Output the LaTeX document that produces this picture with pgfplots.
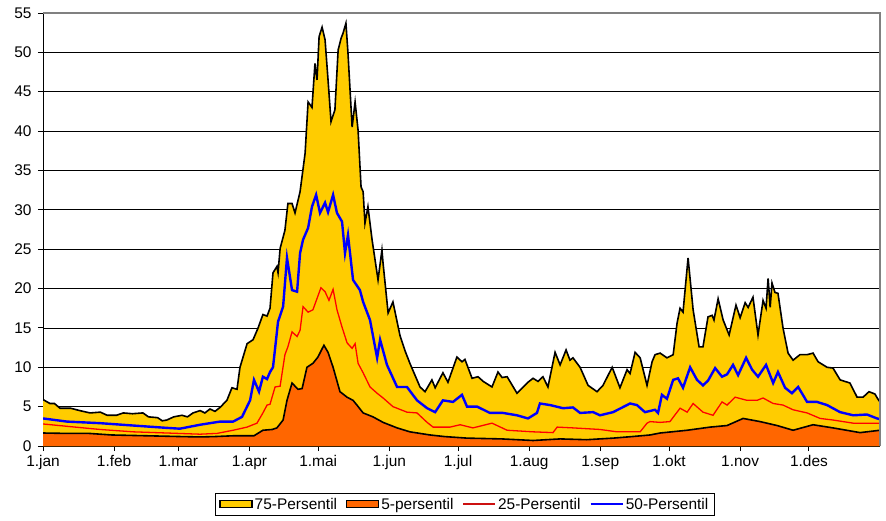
\documentclass[border=0pt]{standalone}
\usepackage{pgfplots}
\pgfplotsset{compat=1.18}
\usepackage{pgfplotstable}
\usepackage{fontspec}
\setmainfont{Liberation Sans}

\definecolor{gull}{HTML}{FFCC00}
\definecolor{oransje}{HTML}{FF6600}
\definecolor{ramme}{HTML}{808080}
\definecolor{rod}{HTML}{FF0000}
\definecolor{mrod}{HTML}{CC1010}
\definecolor{bla}{HTML}{0000FF}

% dag i året (1.jan = 0), verdi
\pgfplotstableread{
d v
0 5.9
3 5.4
5 5.4
7.4 4.8
12 4.8
16 4.5
20.5 4.2
25 4.3
28 3.9
32 3.9
35 4.2
39 4.1
43.6 4.2
46 3.7
50 3.6
52 3.2
54 3.3
57 3.7
60.6 3.9
63 3.7
65.4 4.2
68.5 4.5
70.6 4.2
72.8 4.7
75 4.4
77.2 4.9
80.2 5.8
82.4 7.4
84.6 7.2
85.9 10
89 13
91.6 13.5
93.8 15
95.9 16.7
97.7 16.5
99 17.5
100.3 22
102 22.8
102.5 22
103.4 25.1
105.5 27.4
106.8 30.8
108.6 30.8
109.9 29.6
112.1 32.3
114.3 37.2
115.6 43.7
117.3 43
118.6 48.6
119.5 46.5
120.4 52
121.7 53.2
123 51.6
124.3 46.5
125.6 41.2
127.3 42.7
128.7 50.3
130 51.8
130.8 52.4
132.1 53.7
133 49.9
134.8 40.5
136.1 43.7
137.4 40.1
138.7 32.9
139.6 32.3
140.4 28.3
141.7 30.4
143.5 26.2
146.1 21.1
147.8 24.9
148.3 23.2
150.5 16.9
152.6 18.3
155.7 14
158 12
160 10.5
164.4 7.5
166.6 6.9
169.6 8.4
171 7.4
174.4 9.3
176.6 8.1
180.5 11.3
182.7 10.7
184 11
187.1 8.6
189.7 8.8
192 8.2
195.8 7.5
198.4 9.4
200.2 8.7
202.4 8.8
206.7 6.7
211.5 8.1
213.7 8.6
215.9 8.2
218 8.8
220.2 7.5
223.3 11.9
225.5 10.3
228.1 12.2
229.8 10.9
231.1 11.2
234.2 10
237.7 7.7
241.6 6.9
244.2 7.7
248.2 10
251.6 7.4
254.7 9.7
256 9.2
258.2 11.9
260.4 11.2
263.4 7.7
265.6 10.7
266.9 11.6
269.1 11.8
272.1 11.2
274.8 11.6
276.5 15.6
277.8 17.5
279.1 17
281.3 23.9
283.5 17.3
286.1 12.6
287.8 12.6
290 16.4
291.8 16.6
292.6 16
294.4 18.7
296.6 16
299.2 14.1
302.2 17.9
304 16.3
306.2 18.2
307.5 17.6
309.6 18.9
311.8 14.1
314 18.5
315.3 17.5
316.2 21.3
317.1 17.6
317.9 20.7
319.2 19.5
320.5 19.4
322.7 15
324.9 11.8
327.1 10.9
330.1 11.6
333.2 11.6
335.8 11.8
338 10.7
341.9 10
344.5 9.9
347.6 8.4
351.9 8
355 6.2
357.6 6.2
360.2 6.9
362.8 6.6
364 6.0
365 5.6
}\pseksti

\pgfplotstableread{
d v
0 1.65
10 1.6
20 1.6
30 1.4
45 1.3
60 1.2
68.5 1.15
75 1.2
83 1.3
92 1.3
95.9 2.0
100 2.1
102 2.3
104.7 3.3
106.4 5.8
108.6 8.0
111.2 7.2
113 7.3
115.1 10
117.7 10.5
119.9 11.3
122.5 12.8
124.3 11.9
126.5 10
129.5 6.9
132.6 6.2
135.2 5.8
136.9 5.2
139.6 4.2
143.9 3.7
148.3 3.0
154.4 2.3
160 1.8
168.8 1.4
175 1.2
184.9 1.0
200 0.9
213.7 0.7
225.5 0.9
237 0.8
248.6 1.0
257 1.2
264.7 1.4
269.1 1.65
280.9 2.0
290.9 2.4
298.3 2.6
305.3 3.5
312.7 3.1
320.1 2.6
327.1 2.0
335.8 2.7
344.5 2.3
356.3 1.7
365 2.0
}\pfem

\pgfplotstableread{
d v
0 2.8
10.5 2.5
24.9 2.1
39.3 1.8
54.1 1.65
68.5 1.5
75.9 1.6
82.9 2.0
89 2.4
93.3 2.9
95.9 4.2
97.7 5.2
99 5.3
101.2 7.5
103.4 7.6
105.5 11.6
106.8 12.6
108.6 14.5
110.8 13.9
112.1 14.7
113.4 17.7
115.6 17
117.7 17.3
121.2 20.1
123 19.6
124.7 18.5
126.5 19.9
128.2 17.3
130.4 15.1
132.6 13.1
134.8 12.4
136.1 13
137.4 10.5
139.6 9.3
142.6 7.5
145.7 6.7
148.3 6.1
152.6 5.0
158.7 4.3
163.1 4.2
167.5 3.0
170.1 2.4
177.5 2.4
181.9 2.7
187.5 2.3
195.8 2.9
202.4 2.0
213.7 1.8
222.4 1.7
224.2 2.4
231.1 2.3
242.9 2.1
250.3 1.8
260.4 1.8
263.4 2.9
264.7 3.1
269.1 3.0
273.4 3.1
277.8 4.8
280.9 4.3
283.5 5.4
287.8 4.3
292.2 3.9
296.1 5.6
298.3 5.2
301.8 6.2
307 5.8
311.4 5.8
314 6.1
318.4 5.4
322.7 5.2
327.1 4.6
333.2 4.2
338.9 3.5
344.5 3.3
353.3 2.9
362 2.9
365 2.9
}\ptjuefem

\pgfplotstableread{
d v
0 3.5
10.5 3.1
24.9 2.9
39.3 2.6
54.1 2.3
59.7 2.2
68.5 2.7
77.2 3.1
82.9 3.1
86.8 3.7
90.3 5.8
92 8.4
94.2 6.9
95.9 8.8
97.7 8.5
99 9.4
100.3 10
102.5 15.8
104.7 17.7
106.4 23.9
108.6 19.8
110.8 19.6
112.1 24.5
113.4 26.2
115.6 27.7
117.3 30.4
119.1 31.9
120.8 29.6
123 30.9
124.3 29.7
126.5 31.9
128.2 29.6
130.4 28.5
131.7 24.5
133 26.8
135.2 21.1
138.2 19.8
139.6 18.3
142.6 16
145.7 11.2
147 13.5
150 10.3
154.4 7.5
158.7 7.5
163.1 5.8
167.5 4.8
171 4.3
174.4 5.8
178.8 5.6
182.7 6.5
184.9 5.0
189.3 5.0
194.9 4.2
200.6 4.2
206.7 3.9
211.5 3.5
215.4 4.2
216.7 5.4
221.1 5.2
226.8 4.8
231.1 4.9
234.2 4.2
239.9 4.3
242.9 3.9
248.6 4.3
256 5.4
259 5.2
262.5 4.3
266.9 4.6
268.2 4.2
269.9 6.5
272.1 6.0
274.8 8.4
276.9 8.6
279.1 7.4
282.2 10
285.2 8.4
287.8 7.7
290 8.3
293.1 9.9
296.1 8.8
298.3 9.1
300.9 10.3
303.1 9.0
306.6 11.2
309.2 9.7
311.8 8.8
315.3 10.3
318.4 8.0
320.5 9.4
323.6 7.4
326.6 6.7
329.3 7.5
333.2 5.6
337.5 5.6
341.9 5.2
347.6 4.3
353.3 3.9
359.3 4.0
363.7 3.5
365 3.4
}\pfemti

\begin{document}
\begin{tikzpicture}
\begin{axis}[
    name=ax,
    at={(0,0)}, anchor=south west,
    scale only axis, width=837bp, height=433bp,
    xmin=0, xmax=365, ymin=0, ymax=55,
    axis lines*=left,
    axis line style={black, line width=0.9bp},
    xtick={0,31,59,90,120,151,181,212,243,273,304,334},
    xticklabels={1.jan,1.feb,1.mar,1.apr,1.mai,1.jun,1.jul,1.aug,1.sep,1.okt,1.nov,1.des},
    ytick={0,5,...,55},
    tick align=outside, major tick length=5bp,
    tick style={black, line width=0.9bp},
    ymajorgrids, grid style={black, line width=0.8bp},
    /pgf/number format/assume math mode=true,
    ticklabel style={font=\fontsize{15.5}{18}\selectfont},
    yticklabel style={xshift=-3bp},
    xticklabel style={yshift=-1bp},
    legend style={at={(0.504,-0.1085)}, anchor=north, legend columns=4,
        draw=black, line width=0.8bp, inner xsep=4bp, inner ysep=2.5bp,
        font=\fontsize{15.5}{18}\selectfont,
        /tikz/every even column/.append style={column sep=7bp}},
    legend cell align=left,
]
\addplot[fill=gull, draw=none,
    legend image code/.code={\draw[fill=gull, draw=black, line width=1.3bp] (0bp,-3.5bp) rectangle (32bp,3.5bp);}]
    table[x=d, y=v] {\pseksti} \closedcycle;
\addlegendentry{75-Persentil}
\addplot[black, line width=1.6bp, forget plot] table[x=d, y=v] {\pseksti};

\addplot[fill=oransje, draw=none,
    legend image code/.code={\draw[fill=oransje, draw=black, line width=1.3bp] (0bp,-3.5bp) rectangle (32bp,3.5bp);}]
    table[x=d, y=v] {\pfem} \closedcycle;
\addlegendentry{5-persentil}
\addplot[black, line width=1.6bp, forget plot] table[x=d, y=v] {\pfem};

\addplot[rod, line width=1.3bp,
    legend image code/.code={\draw[draw=mrod, line width=1.6bp] (0bp,0bp) -- (32bp,0bp);}]
    table[x=d, y=v] {\ptjuefem};
\addlegendentry{25-Persentil}

\addplot[bla, line width=2.4bp,
    legend image code/.code={\draw[draw=bla, line width=2.4bp] (0bp,0bp) -- (32bp,0bp);}]
    table[x=d, y=v] {\pfemti};
\addlegendentry{50-Persentil}
\end{axis}
\draw[ramme, line width=1.8bp] (ax.north west) -- (ax.north east) -- (ax.south east);
\pgfresetboundingbox
\useasboundingbox (-43bp,-75bp) rectangle (843bp,446bp);
\end{tikzpicture}
\end{document}
